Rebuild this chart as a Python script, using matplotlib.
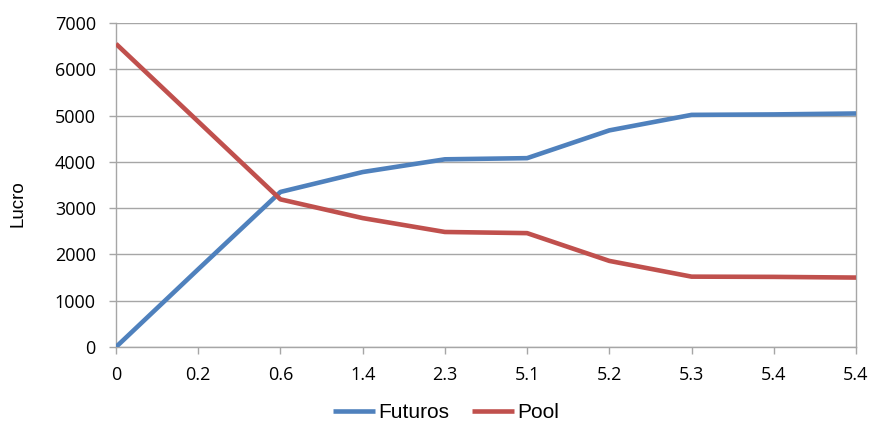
import matplotlib.pyplot as plt

plt.rcParams['font.family'] = ['Liberation Sans', 'DejaVu Sans']

categories = ["0", "0.2", "0.6", "1.4", "2.3", "5.1", "5.2", "5.3", "5.4", "5.4"]
futuros = [0, 1680, 3350, 3780, 4055, 4080, 4680, 5015, 5025, 5045]
pool = [6550, 4870, 3190, 2785, 2485, 2460, 1860, 1520, 1515, 1500]

BLUE = "#4F81BD"
RED = "#C0504D"
GRID = "#A6A6A6"

fig = plt.figure(figsize=(8.71, 4.26), dpi=100)
ax = fig.add_axes([116 / 871, 1 - 347 / 426, 740 / 871, 324 / 426])

x = list(range(len(categories)))
ax.plot(x, futuros, color=BLUE, lw=3.3, label="Futuros", solid_capstyle="butt", zorder=3)
ax.plot(x, pool, color=RED, lw=3.3, label="Pool", solid_capstyle="butt", zorder=3)

ax.set_xlim(0, len(categories) - 1)
ax.set_ylim(0, 7000)
ax.set_yticks(range(0, 7001, 1000))
ax.set_xticks(x)
ax.set_xticklabels(categories)

ax.grid(axis="y", color=GRID, lw=1)
ax.set_axisbelow(True)
for side in ["left", "bottom", "right"]:
    ax.spines[side].set_color(GRID)
    ax.spines[side].set_linewidth(1)
ax.spines["top"].set_visible(False)

ax.tick_params(axis="both", colors=GRID, labelcolor="black", length=5, width=1)
ax.tick_params(axis="x", pad=9)
ax.tick_params(axis="y", pad=9.5)
for lbl in ax.get_xticklabels() + ax.get_yticklabels():
    lbl.set_fontfamily(["Open Sans", "DejaVu Sans"])
    lbl.set_fontsize(13)

ax.set_ylabel("Lucro", fontsize=13.5)
ax.yaxis.set_label_coords(-0.1216, 0.444)

fig.legend(*ax.get_legend_handles_labels(), loc="center", bbox_to_anchor=(446 / 871, 1 - 413 / 426),
           ncol=2, frameon=False, fontsize=15, handlelength=2.0, handletextpad=0.15,
           columnspacing=1.1)

fig.savefig("out.png", dpi=100)
